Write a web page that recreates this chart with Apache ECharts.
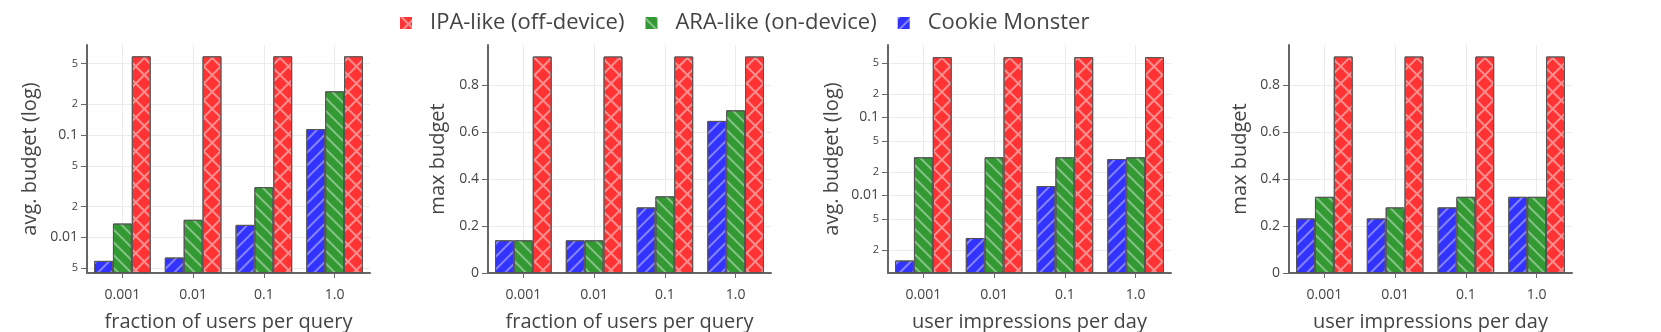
<!DOCTYPE html>
<html>
<head>
<meta charset="utf-8">
<script src="https://cdn.jsdelivr.net/npm/echarts@6/dist/echarts.min.js"></script>
<style>
  html, body { margin: 0; padding: 0; background: #fff; }
  #chart { width: 1661px; height: 332px; }
</style>
</head>
<body>
<div id="chart"></div>
<script>
var categories = ['0.001', '0.01', '0.1', '1.0'];
var seriesNames = ['Cookie Monster', 'ARA-like (on-device)', 'IPA-like (off-device)'];

// avg. budget vs fraction of users per query
var avgFracCookie = [0.00586, 0.00632, 0.0132, 0.1146];
var avgFracAra = [0.0136, 0.0148, 0.0309, 0.268];
var avgFracIpa = [0.59, 0.59, 0.59, 0.59];

// max budget vs fraction of users per query
var maxFracCookie = [0.139, 0.139, 0.279, 0.647];
var maxFracAra = [0.139, 0.139, 0.326, 0.692];
var maxFracIpa = [0.921, 0.921, 0.921, 0.921];

// avg. budget vs user impressions per day
var avgImpCookie = [0.00146, 0.00284, 0.01315, 0.0292];
var avgImpAra = [0.0307, 0.0307, 0.0307, 0.0307];
var avgImpIpa = [0.59, 0.59, 0.59, 0.59];

// max budget vs user impressions per day
var maxImpCookie = [0.232, 0.232, 0.279, 0.324];
var maxImpAra = [0.324, 0.279, 0.324, 0.324];
var maxImpIpa = [0.921, 0.921, 0.921, 0.921];

var logTicks1 = [0.005, 0.01, 0.02, 0.05, 0.1, 0.2, 0.5];
var logTicks3 = [0.002, 0.005, 0.01, 0.02, 0.05, 0.1, 0.2, 0.5];
var linTicks = [0, 0.2, 0.4, 0.6, 0.8];

var FONT = '"Open Sans", "Noto Sans", sans-serif';
var TEXT = '#444';

var styles = {
  'Cookie Monster': {
    color: '#3333ff',
    decal: { symbol: 'rect', symbolSize: 1, color: 'rgba(255,255,255,0.4)',
             dashArrayX: [1, 0], dashArrayY: [1.6, 6.4], rotation: -Math.PI / 4 }
  },
  'ARA-like (on-device)': {
    color: '#339933',
    decal: { symbol: 'rect', symbolSize: 1, color: 'rgba(255,255,255,0.4)',
             dashArrayX: [1, 0], dashArrayY: [1.6, 6.4], rotation: Math.PI / 4 }
  },
  'IPA-like (off-device)': {
    color: '#ff8f8f',
    decal: { symbol: 'rect', symbolSize: 1, color: '#ff3333',
             dashArrayX: [9.6, 1.1], dashArrayY: [9.6, 1.1], rotation: Math.PI / 4 }
  }
};

var panels = [
  { left: 87, yName: 'avg. budget (log)', xName: 'fraction of users per query', log: true,
    min: 0.00446, max: 0.762, ticks: logTicks1, nameGap: 47,
    data: [avgFracCookie, avgFracAra, avgFracIpa] },
  { left: 488, yName: 'max budget', xName: 'fraction of users per query', log: false,
    min: 0, max: 0.97, ticks: linTicks, nameGap: 40,
    data: [maxFracCookie, maxFracAra, maxFracIpa] },
  { left: 888, yName: 'avg. budget (log)', xName: 'user impressions per day', log: true,
    min: 0.00101, max: 0.845, ticks: logTicks3, nameGap: 46,
    data: [avgImpCookie, avgImpAra, avgImpIpa] },
  { left: 1289, yName: 'max budget', xName: 'user impressions per day', log: false,
    min: 0, max: 0.97, ticks: linTicks, nameGap: 39,
    data: [maxImpCookie, maxImpAra, maxImpIpa] }
];

function logLabel(v) {
  var e = Math.floor(Math.log10(v) + 1e-9);
  var m = Math.round(v / Math.pow(10, e));
  if (m === 1) return '{major|' + v + '}';
  return '{minor|' + m + '}';
}

var grid = [], xAxis = [], yAxis = [], series = [];
panels.forEach(function (p, i) {
  grid.push({ left: p.left, top: 45, width: 283, height: 228, outerBoundsMode: 'none' });
  xAxis.push({
    type: 'category', gridIndex: i, data: categories,
    name: p.xName, nameLocation: 'middle', nameGap: 39,
    nameTextStyle: { fontFamily: FONT, fontSize: 20, color: TEXT },
    axisLine: { lineStyle: { color: '#666', width: 2 } },
    axisTick: { show: true, alignWithLabel: true, length: 5, lineStyle: { color: '#666' } },
    axisLabel: { fontFamily: FONT, fontSize: 14, color: TEXT, margin: 15 },
    splitLine: { show: true, alignWithLabel: true, lineStyle: { color: '#ebebeb' } }
  });
  yAxis.push({
    type: p.log ? 'log' : 'value', gridIndex: i, min: p.min, max: p.max,
    startValue: p.log ? p.min : 0,
    name: p.yName, nameLocation: 'middle', nameGap: p.nameGap,
    nameTextStyle: { fontFamily: FONT, fontSize: 20, color: TEXT },
    axisLine: { show: true, lineStyle: { color: '#666', width: 2 } },
    axisTick: { show: true, length: 6, customValues: p.ticks, lineStyle: { color: '#666' } },
    axisLabel: {
      customValues: p.ticks, margin: 9, color: TEXT, fontFamily: FONT,
      formatter: p.log ? logLabel : function (v) { return v === 0 ? '0' : String(v); },
      fontSize: 14,
      rich: {
        major: { fontFamily: FONT, fontSize: 14, color: TEXT },
        minor: { fontFamily: FONT, fontSize: 11, color: TEXT }
      }
    },
    splitLine: { show: true, lineStyle: { color: '#ebebeb' } }
  });
  seriesNames.forEach(function (name, k) {
    series.push({
      type: 'bar', name: name, xAxisIndex: i, yAxisIndex: i,
      data: p.data[k],
      barGap: '0%', barCategoryGap: '20%',
      itemStyle: {
        color: styles[name].color, decal: styles[name].decal,
        borderColor: '#555', borderWidth: 1
      }
    });
  });
});

var myChart = echarts.init(document.getElementById('chart'));
var option = {
  animation: false,
  backgroundColor: '#fff',
  legend: {
    data: ['IPA-like (off-device)', 'ARA-like (on-device)', 'Cookie Monster'],
    top: 7, left: 395,
    icon: 'rect',
    itemWidth: 12, itemHeight: 12, itemGap: 21,
    itemStyle: { borderWidth: 0 },
    textStyle: { fontFamily: FONT, fontSize: 22, color: TEXT, padding: [0, 0, 0, 13] }
  },
  grid: grid,
  xAxis: xAxis,
  yAxis: yAxis,
  series: series
};
myChart.setOption(option);
window.addEventListener('resize', function () {
  myChart.resize();
});
</script>
</body>
</html>
